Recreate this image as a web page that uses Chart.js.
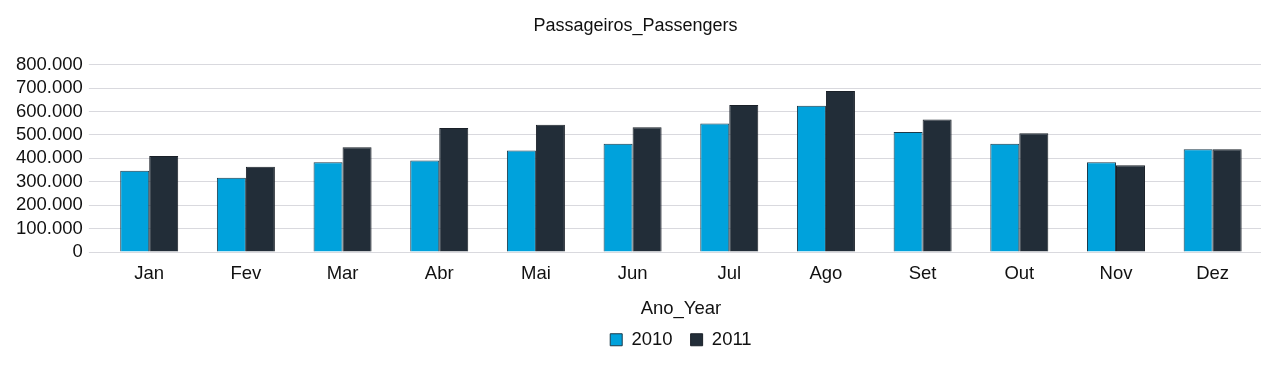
<!DOCTYPE html>
<html>
<head>
<meta charset="utf-8">
<script src="https://cdn.jsdelivr.net/npm/chart.js@4/dist/chart.umd.min.js"></script>
<style>
  html, body { margin: 0; padding: 0; background: #fff; }
  #wrap { width: 1281px; height: 371px; }
</style>
</head>
<body>
<div id="wrap"><canvas id="chart"></canvas></div>
<script>
// meses e passageiros por ano
const months = ["Jan", "Fev", "Mar", "Abr", "Mai", "Jun", "Jul", "Ago", "Set", "Out", "Nov", "Dez"];
const pax2010 = [347000, 317000, 383000, 391000, 434000, 462000, 549000, 624000, 512000, 462000, 383000, 439000];
const pax2011 = [410000, 364000, 447000, 530000, 543000, 533000, 628000, 687000, 566000, 507000, 371000, 439000];
const yearLabels = ["2010", "2011"];

const FONT = "'Liberation Sans', Arial, sans-serif";
const GRID = "#d9d9de";

// separador de milhar com ponto
function fmt(v) {
  return String(v).replace(/\B(?=(\d{3})+(?!\d))/g, ".");
}

new Chart(document.getElementById("chart"), {
  type: "bar",
  data: {
    labels: months,
    datasets: [
      { label: yearLabels[0], data: pax2010, backgroundColor: "#00a2dc", borderColor: "#1c3a4a", borderWidth: 1 },
      { label: yearLabels[1], data: pax2011, backgroundColor: "#222d38", borderColor: "#1a2028", borderWidth: 1 },
    ],
  },
  options: {
    responsive: true,
    maintainAspectRatio: false,
    animation: false,
    datasets: { bar: { categoryPercentage: 0.6, barPercentage: 1.0 } },
    layout: { padding: { top: 8, right: 20, left: 10, bottom: 12 } },
    plugins: {
      title: {
        display: true,
        text: "Passageiros_Passengers",
        color: "#111",
        font: { family: FONT, size: 18, weight: "normal" },
        padding: { top: 7, bottom: 28 },
      },
      legend: {
        position: "bottom",
        fullSize: false,
        labels: {
          color: "#111",
          font: { family: FONT, size: 18.5 },
          boxWidth: 12,
          boxHeight: 12,
          padding: 18,
        },
      },
      tooltip: { enabled: false },
    },
    scales: {
      x: {
        grid: { display: false },
        border: { display: false },
        ticks: { color: "#111", font: { family: FONT, size: 18.5 }, padding: 3 },
        title: {
          display: true,
          text: "Ano_Year",
          color: "#111",
          font: { family: FONT, size: 18.5 },
          padding: { top: 10, bottom: -8 },
        },
      },
      y: {
        min: 0,
        max: 800000,
        ticks: {
          stepSize: 100000,
          autoSkip: false,
          color: "#111",
          font: { family: FONT, size: 18.5 },
          padding: 6,
          callback: v => fmt(v),
        },
        grid: { color: GRID, lineWidth: 1, tickLength: 12, tickColor: GRID },
        border: { display: false },
      },
    },
  },
});
</script>
</body>
</html>
